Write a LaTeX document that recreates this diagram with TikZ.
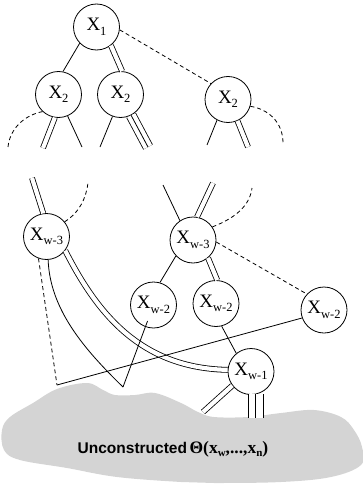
\documentclass[tikz,border=0pt]{standalone}
\usepackage{fontspec}
\setmainfont{Liberation Serif}
\newfontfamily\labelsans{Liberation Sans}
\usepackage{tikz}

\newcommand{\xvar}[1]{X\raisebox{-4.5pt}{\fontsize{12.5}{12.5}\selectfont #1}}
\newcommand{\lowsub}[1]{\raisebox{-3pt}{\fontsize{11}{11}\selectfont #1}}

\begin{document}
\begin{tikzpicture}[x=1pt, y=-1pt,
    vnode/.style={circle, draw, line width=0.8pt, minimum size=46pt, inner sep=0pt, font=\fontsize{19}{19}\selectfont},
    arc/.style={line width=0.8pt},
    dline/.style={line width=0.8pt, double, double distance=4.2pt},
    tline/.style={line width=0.8pt, preaction={draw, line width=10.8pt}, preaction={draw, white, line width=9.2pt}},
    tlinewide/.style={line width=0.8pt, preaction={draw, line width=15.8pt}, preaction={draw, white, line width=14.2pt}},
    dashline/.style={line width=0.8pt, dash pattern=on 4pt off 3pt}]
\useasboundingbox (0,0) rectangle (363,487);

% unconstructed region
\fill[black!17] plot[smooth cycle, tension=0.6] coordinates {
    (57,389) (87,383) (103,390) (115,395) (135,395) (155,393) (181,403)
    (198,412) (214,417) (248,417) (281,413) (314,410) (341,417) (354,430)
    (362,447) (361,465) (331,477) (281,482) (214,483) (181,482) (117,477)
    (67,468) (20,460) (4,450) (2,430) (10,417) (33,403)};
\node (region) at (173,449) {{\labelsans\bfseries\fontsize{15.5}{16}\selectfont Unconstructed}
    {\bfseries\fontsize{17.5}{18}\selectfont Θ(x\lowsub{w},...,x\lowsub{n})}};

% top of the tree
\node[vnode] (t) at (96.5,27) {\xvar{1}};
\node[vnode] (a) at (58.5,94.5) {\xvar{2}};
\node[vnode] (b) at (120.5,94.5) {\xvar{2}};
\node[vnode] (c) at (228,99.5) {\xvar{2}};

\draw[arc] (t.224) -- (a.79);
\draw[dline] (t.308) -- (b.86);
\draw[dashline] (t.353) -- (c.137);

% stubs below the second level
\foreach \n/\ang/\x/\y/\sty in {
    a/261/43/148/dline,
    a/293/82/147/arc,
    b/250/100/147/arc,
    b/297/148/147/tline,
    c/242/207/145/arc,
    c/294/248/147/dline} {
    \coordinate (\n-\ang) at (\x,\y);
    \draw[\sty] (\n.\ang) -- (\n-\ang);
}
\coordinate (aend) at (8,147);
\coordinate (cend) at (283,143);
\draw[dashline] (a.227) .. controls (25,115) and (10,128) .. (aend);
\draw[dashline] (c.343) .. controls (268,109) and (283,122) .. (cend);

% lower levels
\node[vnode] (w3l) at (46.5,236.5) {\xvar{w-3}};
\node[vnode] (w3r) at (193,240) {\xvar{w-3}};
\node[vnode] (w2a) at (153.5,305) {\xvar{w-2}};
\node[vnode] (w2b) at (216,303.5) {\xvar{w-2}};
\node[vnode] (w2c) at (324,310) {\xvar{w-2}};
\node[vnode] (w1) at (251,371.5) {\xvar{w-1}};

% stubs above the lower levels
\coordinate (lup) at (32,178);
\coordinate (lcurl) at (88,183);
\coordinate (rup) at (163,185);
\coordinate (rupd) at (213,183);
\coordinate (rcurl) at (252,188);
\draw[dline] (w3l.98) -- (lup);
\draw[dashline] (w3l.39) .. controls (80,212) and (86,198) .. (lcurl);
\draw[arc] (w3r.124) -- (rup);
\draw[dline] (w3r.80) -- (rupd);
\draw[dashline] (w3r.34) .. controls (238,217) and (250,204) .. (rcurl);

\draw[arc] (w3r.223) -- (w2a.74);
\draw[dline] (w3r.310) -- (w2b.87);
\draw[dashline] (w3r.355) -- (w2c.137);
\draw[arc] (w2b.284) -- (w1.129);
\draw[dline] (w3l.323) .. controls (97,313) and (140,368) .. (w1.176);

% paths that dip into the region
\coordinate (dip) at (123,387);
\coordinate (dipd) at (57,385);
\draw[arc] (w3l.274) .. controls (50,310) and (85,350) .. (dip);
\draw[arc, shorten >=17pt] (dip) -- (w2a.center);
\draw[dashline] (w3l.250) -- (dipd);
\draw[arc] (dipd) -- (w2c.200);

% edges into the region
\coordinate (w1low) at (203,412);
\coordinate (w1foot) at (0,418);
\draw[dline] (w1.217) -- (w1low);
\draw[tlinewide] (w1.282) -- (w1.282 |- w1foot);
\end{tikzpicture}
\end{document}
